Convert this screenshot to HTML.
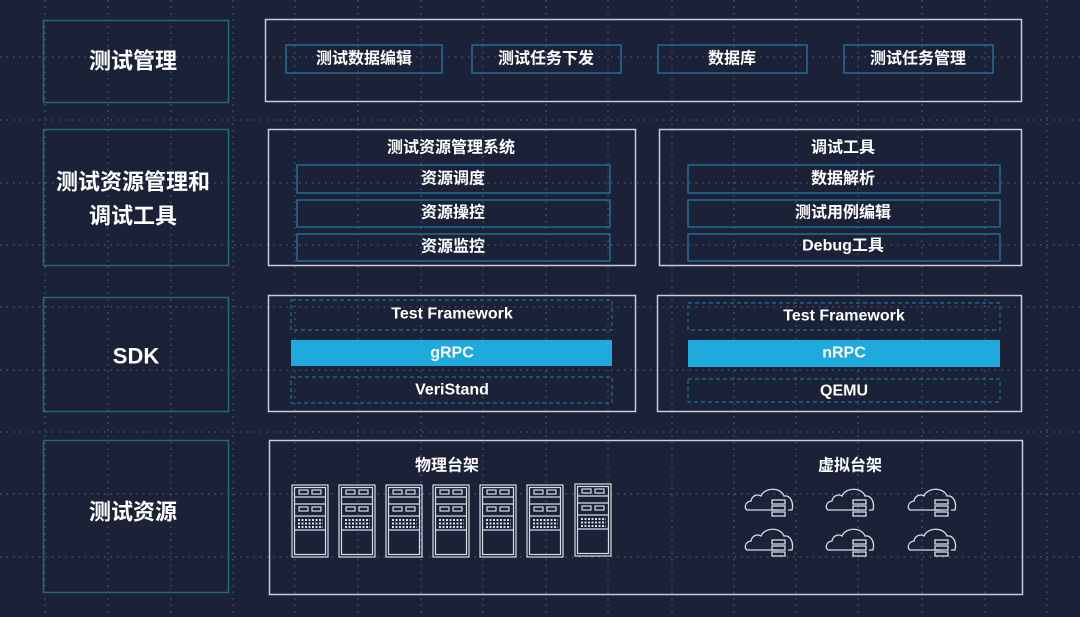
<!DOCTYPE html>
<html><head><meta charset="utf-8"><style>
body{margin:0;background:#1b2238;width:1080px;height:617px;overflow:hidden}
svg{display:block}
text{font-family:"Liberation Sans","Noto Sans CJK SC",sans-serif;font-weight:bold;fill:#fff;text-anchor:middle;dominant-baseline:central}
</style></head><body>
<svg width="1080" height="617" viewBox="0 0 1080 617">
<rect width="1080" height="617" fill="#1b2238"/>
<g stroke="#6b7591" stroke-width="1" stroke-dasharray="1.5 5" opacity="0.8">
<line x1="45" y1="0" x2="45" y2="617"/><line x1="108" y1="0" x2="108" y2="617"/><line x1="171" y1="0" x2="171" y2="617"/><line x1="233" y1="0" x2="233" y2="617"/><line x1="295" y1="0" x2="295" y2="617"/><line x1="358" y1="0" x2="358" y2="617"/><line x1="421" y1="0" x2="421" y2="617"/><line x1="483" y1="0" x2="483" y2="617"/><line x1="546" y1="0" x2="546" y2="617"/><line x1="608" y1="0" x2="608" y2="617"/><line x1="672" y1="0" x2="672" y2="617"/><line x1="734" y1="0" x2="734" y2="617"/><line x1="796" y1="0" x2="796" y2="617"/><line x1="858" y1="0" x2="858" y2="617"/><line x1="922" y1="0" x2="922" y2="617"/><line x1="985" y1="0" x2="985" y2="617"/><line x1="1047" y1="0" x2="1047" y2="617"/>
<line x1="0" y1="57" x2="1080" y2="57"/><line x1="0" y1="120" x2="1080" y2="120"/><line x1="0" y1="183" x2="1080" y2="183"/><line x1="0" y1="245" x2="1080" y2="245"/><line x1="0" y1="307" x2="1080" y2="307"/><line x1="0" y1="370" x2="1080" y2="370"/><line x1="0" y1="432" x2="1080" y2="432"/><line x1="0" y1="494" x2="1080" y2="494"/><line x1="0" y1="557" x2="1080" y2="557"/>
</g>
<!-- left labels -->
<g fill="none" stroke="#1f6b6e" stroke-width="1.5">
<rect x="43.5" y="20.5" width="185" height="82"/>
<rect x="43.5" y="129.5" width="185" height="136"/>
<rect x="43.5" y="297.5" width="185" height="114"/>
<rect x="43.5" y="440.5" width="185" height="152"/>
</g>
<text x="133" y="61" font-size="22">测试管理</text>
<text x="133" y="182" font-size="22">测试资源管理和</text>
<text x="133" y="216" font-size="22">调试工具</text>
<text x="136" y="356" font-size="22">SDK</text>
<text x="133" y="512" font-size="22">测试资源</text>
<!-- outer white boxes -->
<g fill="none" stroke="#c8ccd6" stroke-width="1.5">
<rect x="265.5" y="19.5" width="756" height="82"/>
<rect x="268.5" y="129.5" width="367" height="136"/>
<rect x="659.5" y="129.5" width="362" height="136"/>
<rect x="268.5" y="295.5" width="367" height="116"/>
<rect x="657.5" y="295.5" width="364" height="116"/>
<rect x="269.5" y="440.5" width="753" height="154"/>
</g>
<!-- blue-bordered inner -->
<g fill="none" stroke="#1f6e92" stroke-width="1.5">
<rect x="286" y="45" width="156" height="28"/>
<rect x="472" y="45" width="149" height="28"/>
<rect x="658" y="45" width="149" height="28"/>
<rect x="844" y="45" width="149" height="28"/>
<rect x="297" y="165" width="313" height="28"/>
<rect x="297" y="200" width="313" height="27"/>
<rect x="297" y="234" width="313" height="27"/>
<rect x="688" y="165" width="312" height="28"/>
<rect x="688" y="200" width="312" height="27"/>
<rect x="688" y="234" width="312" height="27"/>
</g>
<g fill="none" stroke="#1f6e92" stroke-width="1.2" stroke-dasharray="4 3">
<rect x="291" y="300" width="321" height="30"/>
<rect x="291" y="377" width="321" height="26"/>
<rect x="688" y="303" width="312" height="27"/>
<rect x="688" y="379" width="312" height="23"/>
</g>
<rect x="291" y="340" width="321" height="26" fill="#1eaadc"/>
<rect x="688" y="340" width="312" height="27" fill="#1eaadc"/>
<g font-size="16">
<text x="364" y="59">测试数据编辑</text>
<text x="546" y="59">测试任务下发</text>
<text x="732" y="59">数据库</text>
<text x="918" y="59">测试任务管理</text>
<text x="451" y="148">测试资源管理系统</text>
<text x="453" y="179">资源调度</text>
<text x="453" y="213">资源操控</text>
<text x="453" y="247">资源监控</text>
<text x="843" y="148">调试工具</text>
<text x="843" y="179">数据解析</text>
<text x="843" y="213">测试用例编辑</text>
<text x="843" y="246">Debug工具</text>
<text x="452" y="314">Test Framework</text>
<text x="452" y="353">gRPC</text>
<text x="452" y="390">VeriStand</text>
<text x="844" y="316">Test Framework</text>
<text x="844" y="353">nRPC</text>
<text x="844" y="391">QEMU</text>
<text x="447" y="466">物理台架</text>
<text x="850" y="466">虚拟台架</text>
</g>
<defs>
<g id="rack" fill="none" stroke="#d8dce4" stroke-width="1.2">
<rect x="0" y="0" width="36" height="72"/>
<rect x="2.5" y="2.5" width="31" height="67"/>
<line x1="2.5" y1="12" x2="33.5" y2="12"/>
<line x1="2.5" y1="19" x2="33.5" y2="19"/>
<line x1="2.5" y1="31" x2="33.5" y2="31"/>
<line x1="2.5" y1="45" x2="33.5" y2="45"/>
<rect x="7" y="5" width="9" height="4"/><rect x="20" y="5" width="9" height="4"/>
<rect x="7" y="22" width="9" height="4"/><rect x="20" y="22" width="9" height="4"/>
<g stroke-dasharray="2 1.5" stroke-width="2"><line x1="6" y1="35" x2="31" y2="35"/><line x1="6" y1="38.5" x2="31" y2="38.5"/><line x1="6" y1="42" x2="31" y2="42"/></g>
</g>
<g id="cloud" fill="none" stroke="#d8dce4" stroke-width="1.3">
<path d="M10 22 H-20 C-24 22 -24 14 -17 13 C-16 7 -10 6 -7 8 C-4 0 12 -2 16 8 C22 7 26 14 24 22 H20"/>
<rect x="4" y="12" width="13" height="4"/><rect x="4" y="18" width="13" height="4"/><rect x="4" y="24" width="13" height="4"/>
</g>
</defs>
<use href="#rack" x="292" y="485"/><use href="#rack" x="339" y="485"/><use href="#rack" x="386" y="485"/><use href="#rack" x="433" y="485"/><use href="#rack" x="480" y="485"/><use href="#rack" x="527" y="485"/><use href="#rack" x="575" y="484"/>
<use href="#cloud" x="768" y="488"/><use href="#cloud" x="849" y="488"/><use href="#cloud" x="931" y="488"/>
<use href="#cloud" x="768" y="528"/><use href="#cloud" x="849" y="528"/><use href="#cloud" x="931" y="528"/>
</svg>
</body></html>
